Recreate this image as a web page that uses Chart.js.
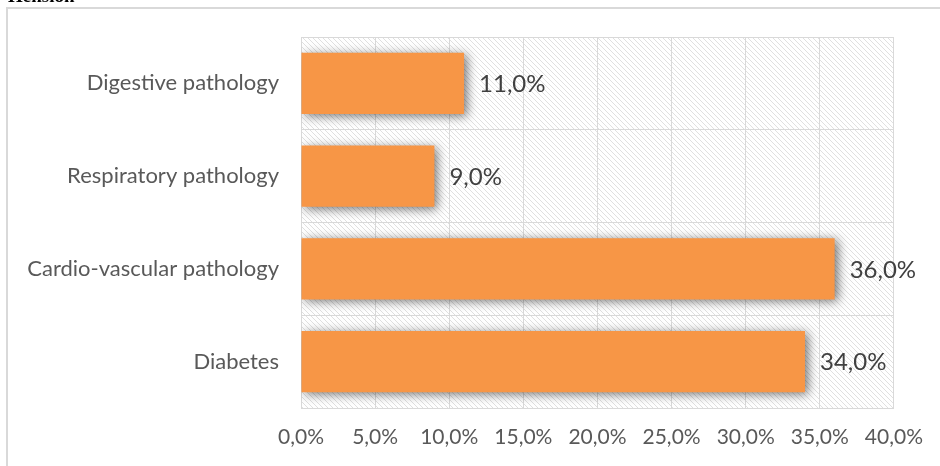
<!DOCTYPE html>
<html>
<head>
<meta charset="utf-8">
<script src="https://cdn.jsdelivr.net/npm/chart.js@4/dist/chart.umd.min.js"></script>
<style>
  html, body { margin: 0; padding: 0; background: #fff; }
  #wrap { width: 940px; height: 466px; position: relative; }
</style>
</head>
<body>
<div id="wrap"><canvas id="chart" width="940" height="466"></canvas></div>
<script>
'use strict';

// categories, top to bottom
const categories = ['Digestive pathology', 'Respiratory pathology', 'Cardio-vascular pathology', 'Diabetes'];
// share of patients (%)
const shares = [11.0, 9.0, 36.0, 34.0];
// x axis
const axisMin = 0;
const axisMax = 40;
const axisStep = 5;

const FONT = 'Lato, "Open Sans", sans-serif';

function fmt(v) {
    return v.toFixed(1).replace('.', ',') + '%';
}

// diagonal hatch for the plot background
function hatch() {
    let c = document.createElement('canvas');
    c.width = 5; c.height = 5;
    let g = c.getContext('2d');
    g.fillStyle = '#ffffff';
    g.fillRect(0, 0, 5, 5);
    g.strokeStyle = '#e0e0e0';
    g.lineWidth = 1;
    g.beginPath();
    g.moveTo(-1, -1); g.lineTo(6, 6);
    g.moveTo(-1, 4); g.lineTo(1, 6);
    g.moveTo(4, -1); g.lineTo(6, 1);
    g.stroke();
    return g.createPattern(c, 'repeat');
}

const frame = {
    id: 'frame',
    beforeDraw(chart) {
        let ctx = chart.ctx;
        let a = chart.chartArea;
        ctx.save();
        // outer chart border (only left & top are visible)
        ctx.strokeStyle = '#d9d9d9';
        ctx.lineWidth = 2;
        ctx.beginPath();
        ctx.moveTo(7, 466); ctx.lineTo(7, 8); ctx.lineTo(940, 8);
        ctx.stroke();
        // cut-off text of the page above, only its foot shows
        ctx.fillStyle = '#000';
        ctx.font = 'bold 19px "Liberation Serif", serif';
        ctx.textBaseline = 'alphabetic';
        ctx.fillText('Hension', 8, 2);
        // hatched plot area
        ctx.fillStyle = hatch();
        ctx.fillRect(a.left, a.top, a.right - a.left, a.bottom - a.top);
        ctx.restore();
    },
    beforeDatasetsDraw(chart) {
        let ctx = chart.ctx;
        ctx.save();
        ctx.shadowColor = 'rgba(0,0,0,0.55)';
        ctx.shadowBlur = 10;
        ctx.shadowOffsetX = 3;
        ctx.shadowOffsetY = 2;
    },
    afterDatasetsDraw(chart) {
        let ctx = chart.ctx;
        ctx.restore();
        ctx.save();
        ctx.fillStyle = '#404040';
        ctx.font = '24px ' + FONT;
        ctx.textAlign = 'left';
        ctx.textBaseline = 'middle';
        let meta = chart.getDatasetMeta(0);
        meta.data.forEach(function (bar, i) {
            ctx.fillText(fmt(shares[i]), bar.x + 15, bar.y + 1);
        });
        ctx.restore();
    }
};

new Chart(document.getElementById('chart'), {
    type: 'bar',
    data: {
        labels: categories,
        datasets: [{
            data: shares,
            backgroundColor: '#f79646',
            borderWidth: 0,
            barPercentage: 0.66,
            categoryPercentage: 1
        }]
    },
    options: {
        indexAxis: 'y',
        responsive: false,
        animation: false,
        devicePixelRatio: 1,
        layout: { padding: { top: 37, right: 46, bottom: 0, left: 0 } },
        plugins: {
            legend: { display: false },
            tooltip: { enabled: false }
        },
        scales: {
            x: {
                min: axisMin,
                max: axisMax,
                ticks: {
                    stepSize: axisStep,
                    color: '#595959',
                    font: { family: FONT, size: 21 },
                    padding: 17,
                    maxRotation: 0,
                    callback: function (v) { return fmt(v); }
                },
                grid: { color: '#d9d9d9', lineWidth: 1, drawTicks: false },
                border: { color: '#d9d9d9', width: 1 },
                afterFit(s) { s.height = 58; }
            },
            y: {
                ticks: {
                    color: '#595959',
                    font: { family: FONT, size: 22 },
                    padding: 22
                },
                grid: { color: '#d9d9d9', lineWidth: 1, offset: true, drawTicks: false },
                border: { color: '#d9d9d9', width: 1 },
                afterFit(s) { s.width = 301; }
            }
        }
    },
    plugins: [frame]
});
</script>
</body>
</html>
